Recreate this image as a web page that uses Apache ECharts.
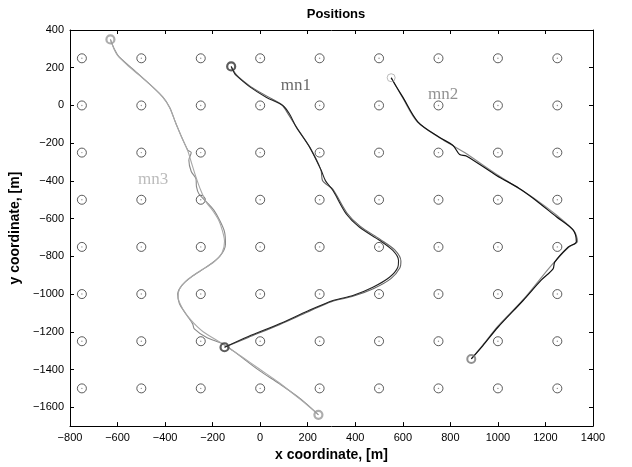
<!DOCTYPE html>
<html><head><meta charset="utf-8">
<script src="https://cdn.jsdelivr.net/npm/echarts@6/dist/echarts.min.js"></script>
<style>html,body{margin:0;padding:0;background:#fff}#c{width:632px;height:467px}</style>
</head><body><div id="c"></div>
<script>
// Sensor grid positions
const gridX = [-750,-500,-250,0,250,500,750,1000,1250];
const gridY = [250,0,-250,-500,-750,-1000,-1250,-1500];
// Trajectories (two estimates per node)
const mn1A = [[-122,207],[-110,175],[-101,159],[-45,100],[25,44],[95,0],[123,-44],[152,-115],[208,-221],[257,-345],[275,-400],[306,-451],[362,-575],[418,-646],[503,-716],[558,-769],[582,-822],[579,-858],[544,-911],[474,-964],[390,-1008],[306,-1034],[200,-1090],[81,-1158],[-50,-1225],[-150,-1282]];
const mn1B = [[-122,207],[-105,170],[-90,150],[-40,100],[30,48],[90,5],[120,-50],[150,-110],[210,-225],[255,-340],[262,-398],[280,-420],[306,-445],[365,-570],[420,-640],[505,-710],[565,-765],[592,-825],[588,-860],[550,-918],[478,-970],[390,-1012],[300,-1040],[200,-1095],[81,-1162],[-50,-1230],[-150,-1282]];
const mn2A = [[551,147],[575,95],[600,44],[664,-88],[755,-170],[811,-212],[839,-260],[867,-268],[994,-371],[1090,-440],[1148,-492],[1246,-590],[1316,-660],[1330,-722],[1295,-752],[1239,-831],[1232,-866],[1183,-925],[1106,-1034],[1000,-1176],[937,-1273],[888,-1344]];
const mn2B = [[551,147],[600,40],[660,-85],[760,-175],[820,-220],[860,-250],[994,-365],[1150,-490],[1250,-585],[1320,-665],[1335,-720],[1300,-750],[1245,-820],[1210,-870],[1106,-1030],[1000,-1170],[937,-1270],[888,-1344]];
const mn3A = [[-630,350],[-615,300],[-600,265],[-560,215],[-508,159],[-450,95],[-410,44],[-382,-9],[-354,-97],[-330,-170],[-305,-239],[-290,-300],[-270,-380],[-250,-450],[-227,-513],[-200,-557],[-174,-610],[-160,-660],[-150,-720],[-160,-780],[-195,-830],[-256,-880],[-312,-930],[-340,-975],[-345,-1017],[-325,-1080],[-290,-1140],[-240,-1200],[-160,-1262],[-80,-1330],[0,-1400],[80,-1470],[170,-1560],[245,-1640]];
const mn3B = [[-630,350],[-612,295],[-595,260],[-508,162],[-410,46],[-380,-12],[-354,-97],[-305,-236],[-290,-250],[-300,-290],[-290,-350],[-270,-390],[-268,-430],[-258,-468],[-227,-510],[-195,-555],[-170,-610],[-150,-670],[-146,-734],[-170,-800],[-230,-860],[-290,-910],[-330,-955],[-347,-1000],[-340,-1050],[-310,-1110],[-284,-1158],[-277,-1185],[-227,-1229],[-157,-1265],[-115,-1300],[-3,-1406],[81,-1476],[170,-1556],[245,-1640]];
// Start / end markers
const mn1Ends = [[-122,207],[-150,-1282]];
const mn2Start = [[551,147]];
const mn2End = [[888,-1344]];
const mn3Ends = [[-630,350],[245,-1640]];
// Labels
const labels = [{name:'mn1', pos:[150,105], color:'#444'},{name:'mn2', pos:[770,60], color:'#777'},{name:'mn3', pos:[-450,-395], color:'#aaa'}];
const xTicks = {min:-800, max:1400, interval:200};
const yRange = {min:-1700, max:400};
const yTickValues = [-1600,-1400,-1200,-1000,-800,-600,-400,-200,0,200,400];

const gridPts = [];
gridX.forEach(x => gridY.forEach(y => gridPts.push([x,y])));

const font = 'Liberation Sans, Arial, sans-serif';
function lineS(data, color, w){
  return {type:'line', data, showSymbol:false, symbol:'none', smooth:0.3, lineStyle:{color, width:w||1}, z:3, animation:false, silent:true};
}
function ring(data, color, size, bw){
  return {type:'scatter', data, symbol:'circle', symbolSize:size, itemStyle:{color:'rgba(0,0,0,0)', borderColor:color, borderWidth:bw}, z:5, animation:false, silent:true};
}
const fmt = v => String(v).replace('-','\u2212');
const axisCommon = {
  type:'value', axisLine:{show:true, onZero:false, lineStyle:{color:'#000', width:1}},
  axisTick:{show:true, inside:true, length:4, lineStyle:{color:'#000'}},
  splitLine:{show:false}
};
const chart = echarts.init(document.getElementById('c'), null, {renderer:'canvas'});
chart.setOption({
  animation:false,
  backgroundColor:'#fff',
  title:{text:'Positions', left:331, textAlign:'center', top:3, textStyle:{fontFamily:font, fontSize:13, fontWeight:'bold', color:'#000'}},
  grid:{left:70, right:39, top:30, bottom:39},
  xAxis:[
    Object.assign({}, axisCommon, xTicks, {position:'bottom', name:'x coordinate, [m]', nameLocation:'middle', nameGap:21,
      nameTextStyle:{fontFamily:font, fontSize:14, fontWeight:'bold', color:'#000'},
      axisLabel:{fontFamily:font, fontSize:11, color:'#000', margin:6, formatter:fmt}}),
    Object.assign({}, axisCommon, xTicks, {position:'top', axisLabel:{show:false}})
  ],
  yAxis:[
    Object.assign({}, axisCommon, yRange, {position:'left', name:'y coordinate, [m]', nameLocation:'middle', nameGap:47, nameRotate:90,
      nameTextStyle:{fontFamily:font, fontSize:14, fontWeight:'bold', color:'#000'},
      axisTick:{show:true, inside:true, length:4, lineStyle:{color:'#000'}, customValues:yTickValues},
      axisLabel:{fontFamily:font, fontSize:11, color:'#000', margin:6, formatter:fmt, customValues:yTickValues}}),
    Object.assign({}, axisCommon, yRange, {position:'right', axisLabel:{show:false},
      axisTick:{show:true, inside:true, length:4, lineStyle:{color:'#000'}, customValues:yTickValues}})
  ],
  series:[
    {type:'scatter', data:gridPts, symbol:'circle', symbolSize:9, itemStyle:{color:'rgba(0,0,0,0)', borderColor:'#333', borderWidth:1}, z:2, animation:false, silent:true},
    {type:'scatter', data:gridPts, symbol:'circle', symbolSize:1.4, itemStyle:{color:'#777'}, z:2, animation:false, silent:true},
    lineS(mn3B, '#888', 1.1),
    lineS(mn3A, '#a8a8a8', 1.1),
    lineS(mn1B, '#666', 1.1),
    lineS(mn1A, '#222', 1.1),
    lineS(mn2B, '#8a8a8a', 1.2),
    lineS(mn2A, '#111', 1.2),
    ring(mn1Ends, '#333', 8, 2.2),
    ring(mn3Ends, '#999', 8, 2.2),
    ring(mn2Start, '#aaa', 8, 1),
    ring(mn2End, '#777', 8, 2),
    {type:'scatter', data:labels.map(l=>({value:l.pos, label:{color:l.color}, name:l.name})), symbolSize:0, z:6, animation:false, silent:true,
      label:{show:true, position:'inside', formatter:p=>p.name, fontFamily:'Liberation Serif, Times New Roman, serif', fontSize:17}}
  ]
});
</script></body></html>
